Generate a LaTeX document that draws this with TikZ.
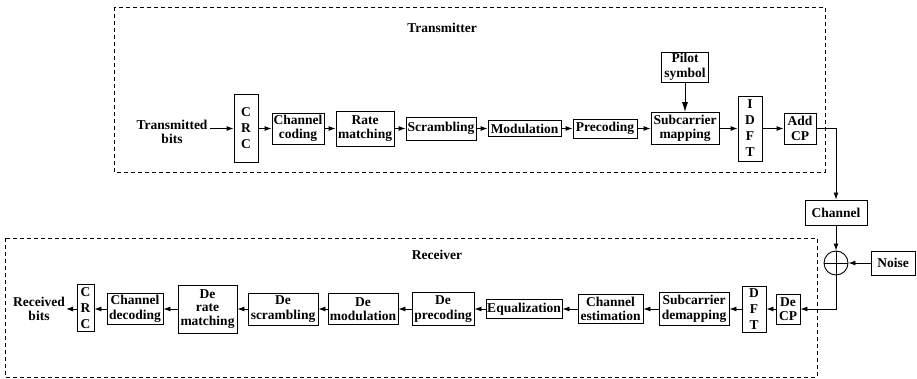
\documentclass[tikz,border=0pt]{standalone}
\usepackage{fontspec}
\setmainfont{Liberation Serif}
\usetikzlibrary{arrows.meta}
\begin{document}
\begin{tikzpicture}[x=1pt,y=-1pt,
  txt/.style={font=\fontsize{13.5}{14.5}\selectfont\bfseries, align=center, inner sep=0pt},
  blk/.style={txt, draw, line width=0.9pt},
  vert/.style={blk, font=\fontsize{13.5}{16}\selectfont\bfseries},
  region/.style={draw, line width=0.8pt, dash pattern=on 4pt off 3pt},
  arr/.style={line width=0.9pt, -{Latex[length=7pt,width=5pt]}},
  bigarr/.style={line width=0.9pt, -{Latex[length=10pt,width=6pt]}},
  ln/.style={line width=0.9pt}]
\useasboundingbox (0,0) rectangle (917,379);
% regions
\draw[region] (114,7) rectangle (825,172);
\draw[region] (5,238) rectangle (817,377);
\node[txt] (txlabel) at (442,28) {Transmitter};
\node[txt] (rxlabel) at (437,255) {Receiver};
% transmitter
\node[txt] (tbits) at (172,132) {Transmitted\\bits};
\node[vert, minimum width=24, minimum height=68] (crc1) at (246,128.5) {C\\R\\C};
\node[blk, minimum width=52, minimum height=31] (cc) at (298,128.5) {Channel\\coding};
\node[blk, minimum width=58, minimum height=35] (rm) at (365,128.5) {Rate\\matching};
\node[blk, minimum width=70, minimum height=23] (scr) at (441,128.5) {Scrambling};
\node[blk, minimum width=73, minimum height=16] (mod) at (524.5,128.5) {Modulation};
\node[blk, minimum width=64, minimum height=19] (prec) at (605,128.5) {Precoding};
\node[blk, minimum width=68, minimum height=32] (scm) at (685,128.5) {Subcarrier\\mapping};
\node[blk, minimum width=47, minimum height=30] (pilot) at (685,67) {Pilot\\symbol};
\node[vert, minimum width=24, minimum height=65] (idft) at (750,128.5) {I\\D\\F\\T};
\node[blk, minimum width=32, minimum height=31] (addcp) at (800,128.5) {Add\\CP};
% channel
\node[blk, minimum width=62, minimum height=25] (chan) at (836,212.5) {Channel};
\node[draw, line width=0.9pt, circle, minimum size=24, inner sep=0pt] (sum) at (836,263) {};
\draw[ln] (sum.north) -- (sum.south) (sum.west) -- (sum.east);
\node[blk, minimum width=44, minimum height=24] (noise) at (893,263) {Noise};
\coordinate (turn) at (836,128.5);
% receiver
\node[blk, minimum width=24, minimum height=30] (decp) at (788,309) {De\\CP};
\node[vert, minimum width=24, minimum height=46] (dft) at (754,309) {D\\F\\T};
\node[blk, minimum width=70, minimum height=33] (scdm) at (694,309) {Subcarrier\\demapping};
\node[blk, minimum width=65, minimum height=29] (che) at (610.5,309) {Channel\\estimation};
\node[blk, minimum width=76, minimum height=19] (eq) at (524,309) {Equalization};
\node[blk, minimum width=62, minimum height=33] (deprec) at (443,309) {De\\precoding};
\node[blk, minimum width=70, minimum height=31] (demod) at (363,309) {De\\modulation};
\node[blk, minimum width=70, minimum height=32] (descr) at (283,309) {De\\scrambling};
\node[blk, minimum width=59, minimum height=48, font=\fontsize{13.5}{13.5}\selectfont\bfseries] (derm) at (207.5,309) {De\\rate\\matching};
\node[blk, minimum width=56, minimum height=31] (chd) at (135,309) {Channel\\decoding};
\node[vert, minimum width=17, minimum height=47] (crc2) at (85.5,308) {C\\R\\C};
\node[txt] (rbits) at (39,309) {Received\\bits};
% tx arrows
\draw[arr] ([xshift=2pt]tbits.east |- crc1.west) -- (crc1.west);
\draw[arr] (crc1.east) -- (cc.west);
\draw[arr] (cc.east) -- (rm.west);
\draw[arr] (rm.east) -- (scr.west);
\draw[arr] (scr.east) -- (mod.west);
\draw[arr] (mod.east) -- (prec.west);
\draw[arr] (prec.east) -- (scm.west);
\draw[bigarr] (pilot.south) -- (scm.north);
\draw[arr] (scm.east) -- (idft.west);
\draw[arr] (idft.east) -- (addcp.west);
\draw[arr] (addcp.east) -- (turn) -- (chan.north);
\draw[arr] (chan.south) -- (sum.north);
\draw[arr] (noise.west) -- (sum.east);
\draw[arr] (sum.south) |- (decp.east);
% rx arrows
\draw[arr] (decp.west) -- (dft.east);
\draw[arr] (dft.west) -- (scdm.east);
\draw[arr] (scdm.west) -- (che.east);
\draw[arr] (che.west) -- (eq.east);
\draw[arr] (eq.west) -- (deprec.east);
\draw[arr] (deprec.west) -- (demod.east);
\draw[arr] (demod.west) -- (descr.east);
\draw[arr] (descr.west) -- (derm.east);
\draw[arr] (derm.west) -- (chd.east);
\draw[arr] (chd.west) -- (crc2.east |- chd.west);
\draw[arr] (crc2.west |- chd.west) -- ([xshift=1pt]rbits.east |- chd.west);
\end{tikzpicture}
\end{document}
